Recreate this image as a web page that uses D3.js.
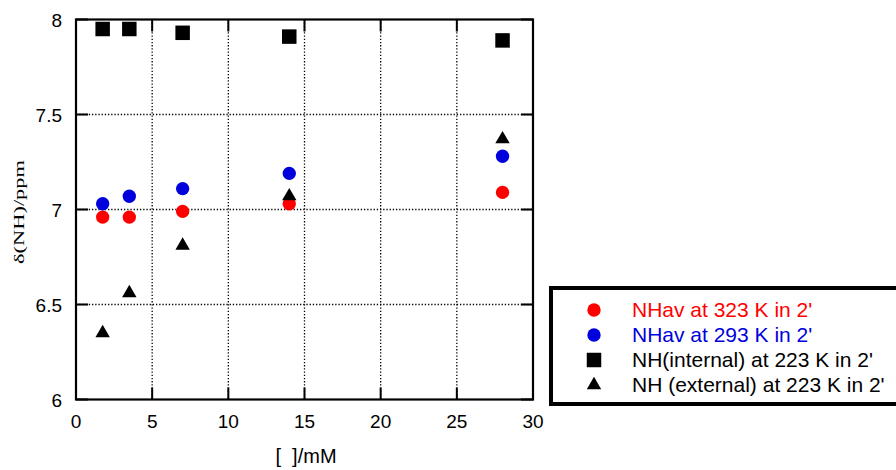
<!DOCTYPE html>
<html>
<head>
<meta charset="utf-8">
<script src="https://cdn.jsdelivr.net/npm/d3@7"></script>
<style>
  body { margin: 0; background: #fff; }
  svg { display: block; font-family: "Liberation Sans", Arial, sans-serif; }
</style>
</head>
<body>
<div id="chart"></div>
<script>
// concentrations (mM)
var conc = [1.75, 3.5, 7, 14, 28];

// shifts (ppm)
var nhav323 = [6.96, 6.96, 6.99, 7.03, 7.09];
var nhav293 = [7.03, 7.07, 7.11, 7.19, 7.28];
var nhInternal223 = [7.95, 7.95, 7.93, 7.91, 7.89];
var nhExternal223 = [6.35, 6.56, 6.81, 7.07, 7.37];

var xTicks = [0, 5, 10, 15, 20, 25, 30];
var yTicks = [6, 6.5, 7, 7.5, 8];

var series = [
  {name: "NHav at 323 K in 2'", values: nhav323, color: "#ff0000", shape: "circle"},
  {name: "NHav at 293 K in 2'", values: nhav293, color: "#0000dd", shape: "circle"},
  {name: "NH(internal) at 223 K in 2'", values: nhInternal223, color: "#000", shape: "square"},
  {name: "NH (external) at 223 K in 2'", values: nhExternal223, color: "#000", shape: "triangle"}
];

var W = 896, H = 470;
var margin = {top: 19.5, left: 76, right: 363, bottom: 70.5};
var width = W - margin.left - margin.right,
    height = H - margin.top - margin.bottom;

var svg = d3.select("#chart").append("svg")
    .attr("width", W)
    .attr("height", H);

var g = svg.append("g")
    .attr("transform", "translate(" + margin.left + "," + margin.top + ")");

var x = d3.scaleLinear().domain([0, 30]).range([0, width]);
var y = d3.scaleLinear().domain([6, 8]).range([height, 0]);

// dotted grid
g.selectAll(".vgrid")
  .data(xTicks.slice(1, -1))
  .enter().append("line")
    .attr("x1", d => x(d)).attr("x2", d => x(d))
    .attr("y1", 0).attr("y2", height)
    .attr("stroke", "#000")
    .attr("stroke-width", 1.3)
    .attr("stroke-dasharray", "1.3,1.9");

g.selectAll(".hgrid")
  .data(yTicks.slice(1, -1))
  .enter().append("line")
    .attr("x1", 0).attr("x2", width)
    .attr("y1", d => y(d)).attr("y2", d => y(d))
    .attr("stroke", "#000")
    .attr("stroke-width", 1.3)
    .attr("stroke-dasharray", "1.3,1.9");

// inward ticks on all four sides
var tk = 12;
g.selectAll(".tb").data(xTicks).enter().append("line")
    .attr("x1", d => x(d)).attr("x2", d => x(d))
    .attr("y1", height).attr("y2", height - tk)
    .attr("stroke", "#000").attr("stroke-width", 2);
g.selectAll(".tt").data(xTicks).enter().append("line")
    .attr("x1", d => x(d)).attr("x2", d => x(d))
    .attr("y1", 0).attr("y2", tk)
    .attr("stroke", "#000").attr("stroke-width", 2);
g.selectAll(".tl").data(yTicks).enter().append("line")
    .attr("x1", 0).attr("x2", tk)
    .attr("y1", d => y(d)).attr("y2", d => y(d))
    .attr("stroke", "#000").attr("stroke-width", 2);
g.selectAll(".tr").data(yTicks).enter().append("line")
    .attr("x1", width).attr("x2", width - tk)
    .attr("y1", d => y(d)).attr("y2", d => y(d))
    .attr("stroke", "#000").attr("stroke-width", 2);

// frame
g.append("rect")
    .attr("width", width).attr("height", height)
    .attr("fill", "none")
    .attr("stroke", "#000")
    .attr("stroke-width", 2.2);

// tick labels
g.selectAll(".xl").data(xTicks).enter().append("text")
    .attr("x", d => x(d))
    .attr("y", height + 28)
    .attr("text-anchor", "middle")
    .style("font-size", "19px")
    .text(d => d);

g.selectAll(".yl").data(yTicks).enter().append("text")
    .attr("x", -14)
    .attr("y", d => y(d) + 7)
    .attr("text-anchor", "end")
    .style("font-size", "19px")
    .text(d => d);

// axis titles
svg.append("text")
    .attr("x", 306)
    .attr("y", 463)
    .attr("text-anchor", "middle")
    .style("font-size", "20px")
    .style("white-space", "pre")
    .attr("xml:space", "preserve")
    .text("[  ]/mM");

svg.append("text")
    .attr("transform", "translate(24,212) rotate(-90)")
    .attr("text-anchor", "middle")
    .attr("textLength", 104)
    .attr("lengthAdjust", "spacingAndGlyphs")
    .style("font-family", "'Liberation Serif', 'DejaVu Serif', serif")
    .style("font-size", "15px")
    .text("δ(NH)/ppm");

// markers
var sym = {
  circle: d3.symbol().type(d3.symbolCircle).size(140),
  square: d3.symbol().type(d3.symbolSquare).size(210),
  triangle: d3.symbol().type(d3.symbolTriangle).size(90)
};

series.forEach(function(s) {
  g.selectAll(null)
    .data(s.values.map((v, i) => ({x: conc[i], y: v})))
    .enter().append("path")
      .attr("d", sym[s.shape])
      .attr("transform", d => "translate(" + x(d.x) + "," + y(d.y) + ")")
      .attr("fill", s.color);
});

// legend
var lg = svg.append("g").attr("transform", "translate(551,288)");
lg.append("rect")
    .attr("width", 360).attr("height", 116)
    .attr("fill", "#fff")
    .attr("stroke", "#000")
    .attr("stroke-width", 4);

var items = lg.selectAll(".item").data(series).enter().append("g")
    .attr("transform", (d, i) => "translate(0," + (22 + i * 25) + ")");
items.append("path")
    .attr("d", d => sym[d.shape]())
    .attr("transform", "translate(43,0)")
    .attr("fill", d => d.color);
items.append("text")
    .attr("x", 81)
    .attr("y", 7)
    .style("font-size", "21px")
    .attr("fill", d => d.color)
    .text(d => d.name);
</script>
</body>
</html>
